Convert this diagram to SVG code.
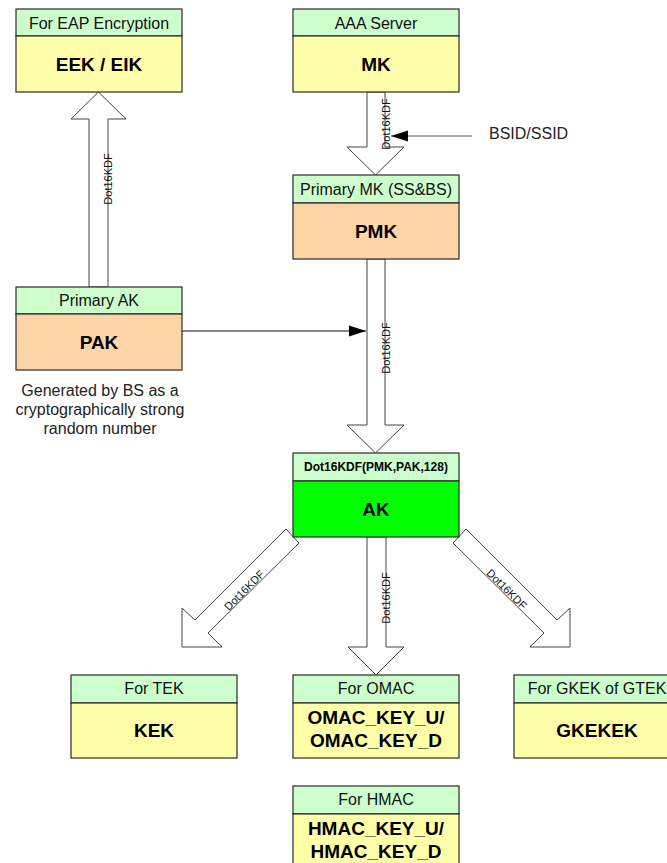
<svg xmlns="http://www.w3.org/2000/svg" width="667" height="863" viewBox="0 0 667 863">
<defs>
<style>
.hdr{fill:#CCFFCC;stroke:#2a2a2a;stroke-width:1.2}
.yel{fill:#FFFFAA;stroke:#2a2a2a;stroke-width:1.2}
.peach{fill:#FFD5A8;stroke:#2a2a2a;stroke-width:1.2}
.grn{fill:#00FF00;stroke:#2a2a2a;stroke-width:1.2}
.ht{font-family:"Liberation Sans",Arial,sans-serif;font-size:16px;fill:#111;text-anchor:middle}
.bt{font-family:"Liberation Sans",Arial,sans-serif;font-size:19px;font-weight:bold;fill:#000;text-anchor:middle}
.st{font-family:"Liberation Sans",Arial,sans-serif;font-size:12px;font-weight:bold;fill:#000;text-anchor:middle}
.lbl{font-family:"Liberation Sans",Arial,sans-serif;font-size:11px;fill:#111;text-anchor:middle}
.note{font-family:"Liberation Sans",Arial,sans-serif;font-size:16px;fill:#222;text-anchor:middle}
.hollow{fill:#fff;stroke:#444;stroke-width:1}
</style>
<marker id="ah" markerWidth="18" markerHeight="12" refX="17" refY="6" orient="auto" markerUnits="userSpaceOnUse">
<path d="M0,0.5 L17,6 L0,11.5 Z" fill="#000"/>
</marker>
</defs>
<rect width="667" height="863" fill="#fff"/>

<g id="connectors">
<polygon class="hollow" points="89,287 89,119 71,119 98.5,92 126,119 108,119 108,287"/>
<text class="lbl" transform="translate(112,179) rotate(-90)">Dot16KDF</text>
<polygon class="hollow" points="367,92 367,147 347,147 375.5,175 404,147 385,147 385,92"/>
<text class="lbl" transform="translate(390,124) rotate(-90)">Dot16KDF</text>
<line x1="472" y1="136" x2="391" y2="136" stroke="#555" stroke-width="1" marker-end="url(#ah)"/>
<polygon class="hollow" points="367,259 367,425 347,425 375.5,453 404,425 385,425 385,259"/>
<text class="lbl" transform="translate(390,348) rotate(-90)">Dot16KDF</text>
<line x1="182" y1="331" x2="366" y2="331" stroke="#111" stroke-width="1" marker-end="url(#ah)"/>
<polygon class="hollow" points="367,537 367,647 348,647 376,675 404,647 386,647 386,537"/>
<text class="lbl" transform="translate(390,598) rotate(-90)">Dot16KDF</text>
<polygon class="hollow" points="286,529 195,620 182,608 182,647 222,647 208,633 299,543"/>
<text class="lbl" transform="translate(247,593) rotate(-45)">Dot16KDF</text>
<polygon class="hollow" points="466,529 557,620 570,608 570,647 530,647 544,633 453,543"/>
<text class="lbl" transform="translate(504,592) rotate(45)">Dot16KDF</text>
<text x="489" y="139" style="font-family:'Liberation Sans',Arial,sans-serif;font-size:16px;fill:#222">BSID/SSID</text>
</g>

<g id="node-eek">
<rect class="hdr" x="16" y="9" width="166" height="27"/>
<rect class="yel" x="16" y="36" width="166" height="56"/>
<text class="ht" x="99" y="28.5">For EAP Encryption</text>
<text class="bt" x="99" y="71">EEK / EIK</text>
</g>

<g id="node-mk">
<rect class="hdr" x="293" y="9" width="166" height="27"/>
<rect class="yel" x="293" y="36" width="166" height="56"/>
<text class="ht" x="376" y="28.5">AAA Server</text>
<text class="bt" x="376" y="71">MK</text>
</g>

<g id="node-pmk">
<rect class="hdr" x="293" y="175" width="166" height="28"/>
<rect class="peach" x="293" y="203" width="166" height="56"/>
<text class="ht" x="376" y="194.5">Primary MK (SS&amp;BS)</text>
<text class="bt" x="376" y="238">PMK</text>
</g>

<g id="node-pak">
<rect class="hdr" x="16" y="287" width="166" height="27"/>
<rect class="peach" x="16" y="314" width="166" height="56"/>
<text class="ht" x="99" y="306">Primary AK</text>
<text class="bt" x="99" y="349">PAK</text>
</g>

<g id="note-pak">
<text class="note" x="100" y="396">Generated by BS as a</text>
<text class="note" x="100" y="415">cryptographically strong</text>
<text class="note" x="100" y="434">random number</text>
</g>

<g id="node-ak">
<rect class="hdr" x="293" y="453" width="166" height="28"/>
<rect class="grn" x="293" y="481" width="166" height="56"/>
<text class="st" x="376" y="471">Dot16KDF(PMK,PAK,128)</text>
<text class="bt" x="376" y="516">AK</text>
</g>

<g id="node-kek">
<rect class="hdr" x="71" y="675" width="166" height="28"/>
<rect class="yel" x="71" y="703" width="166" height="55"/>
<text class="ht" x="154" y="694">For TEK</text>
<text class="bt" x="154" y="737">KEK</text>
</g>

<g id="node-omac">
<rect class="hdr" x="293" y="675" width="166" height="28"/>
<rect class="yel" x="293" y="703" width="166" height="55"/>
<text class="ht" x="376" y="694">For OMAC</text>
<text class="bt" x="376" y="724">OMAC_KEY_U/</text>
<text class="bt" x="376" y="747">OMAC_KEY_D</text>
</g>

<g id="node-gkek">
<rect class="hdr" x="514" y="675" width="166" height="28"/>
<rect class="yel" x="514" y="703" width="166" height="55"/>
<text class="ht" x="597" y="694">For GKEK of GTEK</text>
<text class="bt" x="597" y="737">GKEKEK</text>
</g>

<g id="node-hmac">
<rect class="hdr" x="293" y="786" width="166" height="28"/>
<rect class="yel" x="293" y="814" width="166" height="60"/>
<text class="ht" x="376" y="805">For HMAC</text>
<text class="bt" x="376" y="835">HMAC_KEY_U/</text>
<text class="bt" x="376" y="858">HMAC_KEY_D</text>
</g>
</svg>
